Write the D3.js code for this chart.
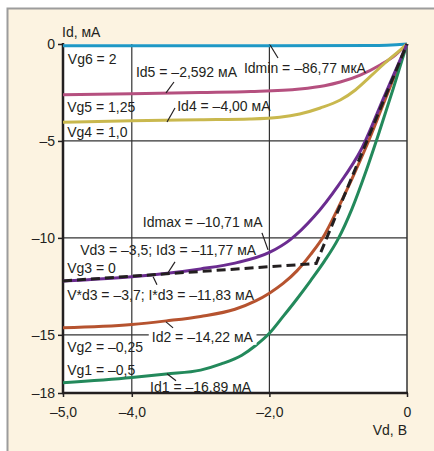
<!DOCTYPE html>
<html>
<head>
<meta charset="utf-8">
<script src="https://cdn.jsdelivr.net/npm/d3@7"></script>
<style>
  body { margin: 0; background: #fff; }
  text { font-family: "Liberation Sans", Arial, sans-serif; font-size: 14px; fill: #231f20; }
</style>
</head>
<body>
<div id="chart"></div>
<script>
/* tick values and labels */
var xTicks = [-5, -4, -2, 0];
var xTickLabels = ["–5,0", "–4,0", "–2,0", "0"];
var yTicks = [0, -5, -10, -15, -18];
var yTickLabels = ["0", "–5", "–10", "–15", "–18"];
var xGrid = [-4, -2];
var yGrid = [-5, -10, -15];

/* output curves Id(Vd), [Vd, Id] in V and mA */
var vg6 = [[-5, -0.087], [-2, -0.087], [-0.5, -0.08], [0, 0]];
var vg5 = [[-5, -2.62], [-4, -2.56], [-3, -2.5], [-2.27, -2.45], [-1.56, -2.32], [-1.2, -2.15],
           [-0.97, -1.96], [-0.68, -1.6], [-0.39, -1.08], [-0.17, -0.57], [0, 0]];
var vg4 = [[-5, -4.04], [-4, -3.96], [-3, -3.91], [-2.28, -3.87], [-1.85, -3.78], [-1.56, -3.61],
           [-1.26, -3.3], [-0.97, -2.89], [-0.75, -2.37], [-0.54, -1.7], [-0.32, -0.98], [-0.1, -0.31], [0, 0]];
var vg3 = [[-5, -12.22], [-4, -12.0], [-3, -11.6], [-2.5, -11.3], [-2, -10.75], [-1.7, -10.1],
           [-1.35, -8.9], [-1, -7.3], [-0.66, -5.4], [-0.33, -2.7], [0, 0]];
var vg2 = [[-5, -14.64], [-4, -14.47], [-3.5, -14.28], [-3, -14.05], [-2.5, -13.68], [-2.2, -13.25],
           [-2, -12.85], [-1.8, -12.35], [-1.6, -11.7], [-1.4, -10.85], [-1.2, -9.85], [-1, -8.45],
           [-0.8, -6.95], [-0.6, -5.35], [-0.4, -3.6], [-0.2, -1.8], [0, 0]];
var vg1 = [[-5, -17.47], [-4, -17.2], [-3.5, -17.02], [-3, -16.82], [-2.7, -16.5], [-2.4, -16.05],
           [-2.2, -15.55], [-2, -14.92], [-1.8, -14.05], [-1.6, -13.15], [-1.4, -12.2], [-1.2, -11.2],
           [-1, -10.05], [-0.8, -8.5], [-0.6, -6.6], [-0.4, -4.5], [-0.2, -2.3], [0, 0]];
/* linearised Vg3 characteristic */
var approx3 = [[-5, -12.22], [-1.32, -11.32], [0, 0]];

var width = 434, svgheight = 451;

var theSVG = d3.select("#chart")
    .append("svg")
    .attr("width", width)
    .attr("height", svgheight);

/* beige frame with grey border on top and left */
theSVG.append("rect")
    .attr("x", 7).attr("y", 8)
    .attr("width", width - 7).attr("height", svgheight - 8)
    .attr("fill", "#fcf3e1");
theSVG.append("path")
    .attr("d", "M7.5," + svgheight + " V8.5 H" + width)
    .attr("fill", "none")
    .attr("stroke", "#9c9c9c")
    .attr("stroke-width", 2);

var x = d3.scaleLinear().domain([-5, 0]).range([63, 407]);
var y = d3.scaleLinear().domain([0, -18]).range([44, 393]);

var theVIS = theSVG.append("g");

/* white plot area */
theVIS.append("rect")
    .attr("x", x(-5)).attr("y", y(0))
    .attr("width", x(0) - x(-5)).attr("height", y(-18) - y(0))
    .attr("fill", "#fff");

/* grid */
theVIS.selectAll(".vgrid").data(xGrid).enter().append("line")
    .attr("x1", function (d) { return x(d); }).attr("x2", function (d) { return x(d); })
    .attr("y1", y(0)).attr("y2", y(-18))
    .attr("stroke", "#333").attr("stroke-width", 1.2);
theVIS.selectAll(".hgrid").data(yGrid).enter().append("line")
    .attr("x1", x(-5)).attr("x2", x(0))
    .attr("y1", function (d) { return y(d); }).attr("y2", function (d) { return y(d); })
    .attr("stroke", "#333").attr("stroke-width", 1.2);

/* right border */
theVIS.append("line")
    .attr("x1", x(0)).attr("x2", x(0)).attr("y1", y(0)).attr("y2", y(-18))
    .attr("stroke", "#333").attr("stroke-width", 1.5);

/* axes */
var xAxis = d3.axisBottom(x).tickValues(xTicks).tickSize(4).tickPadding(10)
    .tickFormat(function (d, i) { return xTickLabels[i]; });
var yAxis = d3.axisLeft(y).tickValues(yTicks).tickSize(5).tickPadding(3)
    .tickFormat(function (d, i) { return yTickLabels[i]; });

var gx = theVIS.append("g").attr("transform", "translate(0," + y(-18) + ")").call(xAxis);
var gy = theVIS.append("g").attr("transform", "translate(" + x(-5) + ",0)").call(yAxis);
[gx, gy].forEach(function (g) {
    g.select(".domain").remove();
    g.selectAll("line").attr("stroke", "#231f20").attr("stroke-width", 1.5);
    g.selectAll("text").attr("font-size", 14).attr("font-family", "Liberation Sans, Arial, sans-serif")
        .attr("fill", "#231f20");
});

theVIS.append("line")
    .attr("x1", x(-5)).attr("x2", x(-5)).attr("y1", y(0) - 1).attr("y2", y(-18) + 1)
    .attr("stroke", "#231f20").attr("stroke-width", 2.5);
theVIS.append("line")
    .attr("x1", x(-5) - 1).attr("x2", x(0) + 1).attr("y1", y(-18)).attr("y2", y(-18))
    .attr("stroke", "#231f20").attr("stroke-width", 2.5);

/* axis titles */
theVIS.append("text").attr("x", 62).attr("y", 37).text("Id, мА");
theVIS.append("text").attr("x", x(0)).attr("y", 435).attr("text-anchor", "end").text("Vd, В");

/* curves */
var line = d3.line()
    .x(function (d) { return x(d[0]); })
    .y(function (d) { return y(d[1]); })
    .curve(d3.curveMonotoneX);

var series = [
    { data: vg6, color: "#1f98c4" },
    { data: vg5, color: "#b5507f" },
    { data: vg4, color: "#c9b84e" },
    { data: vg2, color: "#b6532f" },
    { data: vg1, color: "#23895b" },
    { data: vg3, color: "#6b2c90" }
];
series.forEach(function (s) {
    theVIS.append("path")
        .attr("d", line(s.data))
        .attr("fill", "none")
        .attr("stroke", s.color)
        .attr("stroke-width", 3)
        .attr("stroke-linejoin", "round");
});

theVIS.append("path")
    .attr("d", d3.line().x(function (d) { return x(d[0]); }).y(function (d) { return y(d[1]); })(approx3))
    .attr("fill", "none")
    .attr("stroke", "#231f20")
    .attr("stroke-width", 3)
    .attr("stroke-dasharray", "9,5");

/* annotation text, placed in data coordinates */
function label (v, i, str, bg) {
    var t = theVIS.append("text").attr("x", x(v)).attr("y", y(i)).text(str);
    if (bg) {
        var b = t.node().getBBox();
        theVIS.insert("rect", function () { return t.node(); })
            .attr("x", b.x - 3).attr("y", b.y)
            .attr("width", b.width + 6).attr("height", b.height)
            .attr("fill", "#fff");
    }
    return t;
}
function leader (v1, i1, v2, i2) {
    theVIS.append("line")
        .attr("x1", x(v1)).attr("y1", y(i1)).attr("x2", x(v2)).attr("y2", y(i2))
        .attr("stroke", "#231f20").attr("stroke-width", 1.2);
}

label(-4.93, -1.03, "Vg6 = 2");
label(-3.94, -1.70, "Id5 = –2,592 мА");
label(-2.37, -1.49, "Idmin = –86,77 мкА");
label(-4.94, -3.51, "Vg5 = 1,25");
label(-3.34, -3.45, "Id4 = –4,00 мА");
label(-4.94, -4.79, "Vg4 = 1,0");
label(-3.84, -9.43, "Idmax = –10,71 мА");
label(-4.75, -10.88, "Vd3 = –3,5; Id3 = –11,77 мА");
label(-4.94, -11.8, "Vg3 = 0");
label(-4.94, -13.2, "V*d3 = –3,7; I*d3 = –11,83 мА");
label(-3.71, -15.36, "Id2 = –14,22 мА", true);
label(-4.94, -15.88, "Vg2 = –0,25");
label(-4.94, -17.06, "Vg1 = –0,5");
label(-3.735, -17.94, "Id1 = –16,89 мА");

leader(-3.503, -2.526, -3.387, -1.959);
leader(-3.488, -4.02, -3.372, -3.30);
leader(-1.99, -0.05, -1.875, -0.72);
leader(-2.108, -9.74, -2.02, -10.62);
leader(-3.474, -11.8, -3.372, -11.24);
leader(-3.69, -12.01, -3.634, -12.42);
leader(-3.503, -14.33, -3.40, -14.64);
leader(-3.488, -17.01, -3.357, -17.37);
</script>
</body>
</html>
